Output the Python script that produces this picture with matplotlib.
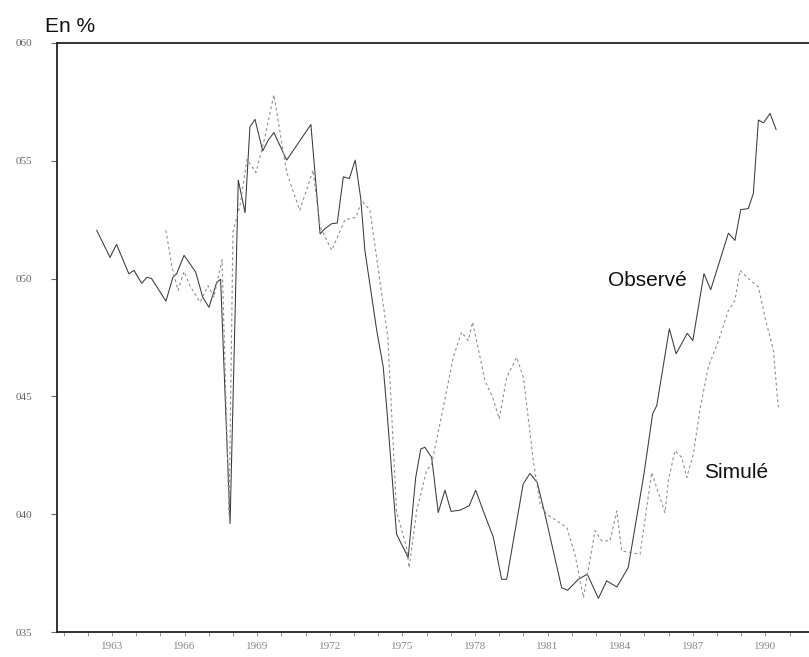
import matplotlib
matplotlib.use("Agg")
import matplotlib.pyplot as plt
from matplotlib.ticker import MultipleLocator

# Observed rate (quarterly readings, decimal year)
obs_year = [1962.37, 1962.92, 1963.19, 1963.70, 1963.91, 1964.23, 1964.45, 1964.64,
            1965.23, 1965.52, 1965.67, 1965.98, 1966.46, 1966.75, 1967.01, 1967.33,
            1967.49, 1967.88, 1968.22, 1968.50, 1968.70, 1968.91, 1969.23, 1969.46,
            1969.69, 1970.22, 1971.22, 1971.60, 1971.80, 1972.08, 1972.31, 1972.56,
            1972.81, 1973.05, 1973.28, 1973.45, 1973.94, 1974.21, 1974.35, 1974.76,
            1975.24, 1975.55, 1975.76, 1975.93, 1976.21, 1976.48, 1976.76, 1977.01,
            1977.38, 1977.76, 1978.03, 1978.34, 1978.76, 1979.10, 1979.31, 1979.99,
            1980.27, 1980.57, 1980.89, 1981.58, 1981.83, 1982.27, 1982.64, 1983.10,
            1983.44, 1983.86, 1984.33, 1984.68, 1984.98, 1985.34, 1985.51, 1986.03,
            1986.31, 1986.77, 1987.00, 1987.46, 1987.74, 1988.47, 1988.74, 1988.98,
            1989.29, 1989.50, 1989.71, 1989.92, 1990.19, 1990.44]
obs_rate = [0.5205, 0.509, 0.5145, 0.502, 0.5035, 0.498, 0.5006, 0.500,
            0.4904, 0.5006, 0.502, 0.5099, 0.5028, 0.4921, 0.4878, 0.4985,
            0.4997, 0.396, 0.5418, 0.528, 0.5644, 0.5676, 0.5542, 0.5588,
            0.562, 0.5503, 0.5654, 0.519, 0.5212, 0.5233, 0.5236, 0.5432,
            0.5425, 0.5503, 0.534, 0.512, 0.478, 0.4624, 0.4454, 0.3915,
            0.3816, 0.4156, 0.4277, 0.4284, 0.4241, 0.4007, 0.4102, 0.4012,
            0.4017, 0.4036, 0.4102, 0.4014, 0.3901, 0.3724, 0.3724, 0.4128,
            0.4173, 0.4135, 0.400, 0.3688, 0.3677, 0.3724, 0.3745, 0.3643,
            0.3717, 0.3691, 0.3773, 0.3986, 0.417, 0.4426, 0.4461, 0.4787,
            0.4681, 0.4768, 0.4737, 0.5021, 0.4953, 0.5193, 0.5162, 0.5293,
            0.5297, 0.5361, 0.5673, 0.5661, 0.5701, 0.5633]

# Simulated rate
sim_year = [1965.23, 1965.48, 1965.73, 1965.98, 1966.22, 1966.64, 1966.97, 1967.21,
            1967.55, 1967.84, 1968.00, 1968.29, 1968.58, 1968.95, 1969.32, 1969.69,
            1970.22, 1970.76, 1971.31, 1971.60, 1972.08, 1972.63, 1973.08, 1973.33,
            1973.66, 1974.40, 1974.76, 1975.17, 1975.28, 1975.59, 1976.00, 1976.21,
            1976.83, 1977.10, 1977.45, 1977.72, 1977.90, 1978.21, 1978.41, 1978.73,
            1979.00, 1979.31, 1979.72, 1980.00, 1980.41, 1980.69, 1980.96, 1981.79,
            1982.13, 1982.48, 1982.96, 1983.24, 1983.58, 1983.86, 1984.06, 1984.82,
            1985.30, 1985.85, 1985.99, 1986.26, 1986.54, 1986.75, 1987.02, 1987.31,
            1987.64, 1988.06, 1988.47, 1988.74, 1988.95, 1989.23, 1989.71, 1989.98,
            1990.33, 1990.53]
sim_rate = [0.5205, 0.505, 0.495, 0.503, 0.497, 0.490, 0.497, 0.492,
            0.508, 0.400, 0.520, 0.531, 0.5506, 0.545, 0.560, 0.578,
            0.545, 0.529, 0.546, 0.522, 0.512, 0.525, 0.526, 0.533,
            0.529, 0.475, 0.401, 0.386, 0.3773, 0.4014, 0.4185, 0.4213,
            0.4525, 0.4666, 0.4773, 0.4737, 0.4815, 0.4666, 0.4567, 0.4496,
            0.4404, 0.4581, 0.4666, 0.4581, 0.4227, 0.4043, 0.400, 0.3944,
            0.383, 0.3646, 0.393, 0.3887, 0.3887, 0.4014, 0.3844, 0.383,
            0.4177, 0.4007, 0.4142, 0.427, 0.4241, 0.4156, 0.4255, 0.4454,
            0.4624, 0.4737, 0.4865, 0.4907, 0.5035, 0.5006, 0.4964, 0.4836,
            0.4695, 0.4454]

year_ticks = [1963, 1966, 1969, 1972, 1975, 1978, 1981, 1984, 1987, 1990]
rate_ticks = [0.35, 0.40, 0.45, 0.50, 0.55, 0.60]
rate_labels = ["035", "040", "045", "050", "055", "060"]

fig = plt.figure(figsize=(8.09, 6.57), dpi=100)
ax = fig.add_axes([57 / 809, 25 / 657, 752 / 809, 589 / 657])

ax.plot(obs_year, obs_rate, color="#3a3a3a", lw=0.75, solid_joinstyle="round")
ax.plot(sim_year, sim_rate, color="#8f8f8f", lw=0.8, linestyle=(0, (2.5, 2.5)))

ax.set_xlim(1960.73, 1991.80)
ax.set_ylim(0.35, 0.60)

for side in ("left", "top", "bottom"):
    ax.spines[side].set_linewidth(1.3)
    ax.spines[side].set_color("#222222")
ax.spines["right"].set_visible(False)

ax.set_yticks(rate_ticks)
ax.set_yticklabels(rate_labels, family="Liberation Serif", fontsize=8, color="#666666")
ax.tick_params(axis="y", direction="out", length=4, width=0.8, pad=14, colors="#666666")

ax.set_xticks(year_ticks)
ax.set_xticklabels([str(y) for y in year_ticks], family="Liberation Serif",
                   fontsize=8, color="#666666")
ax.xaxis.set_minor_locator(MultipleLocator(1))
ax.tick_params(axis="x", which="both", direction="out", length=3, width=0.6,
               pad=4, colors="#888888")

fig.text(45 / 809, 1 - 26 / 657, "En %", family="Liberation Sans", fontsize=15,
         va="center", ha="left", color="#111111")
ax.text(1985.11, 0.4992, "Observé", family="Liberation Sans",
        fontsize=15, ha="center", va="center", color="#111111")
ax.text(1988.79, 0.4176, "Simulé", family="Liberation Sans",
        fontsize=15, ha="center", va="center", color="#111111")

fig.savefig("out.png", dpi=100)
